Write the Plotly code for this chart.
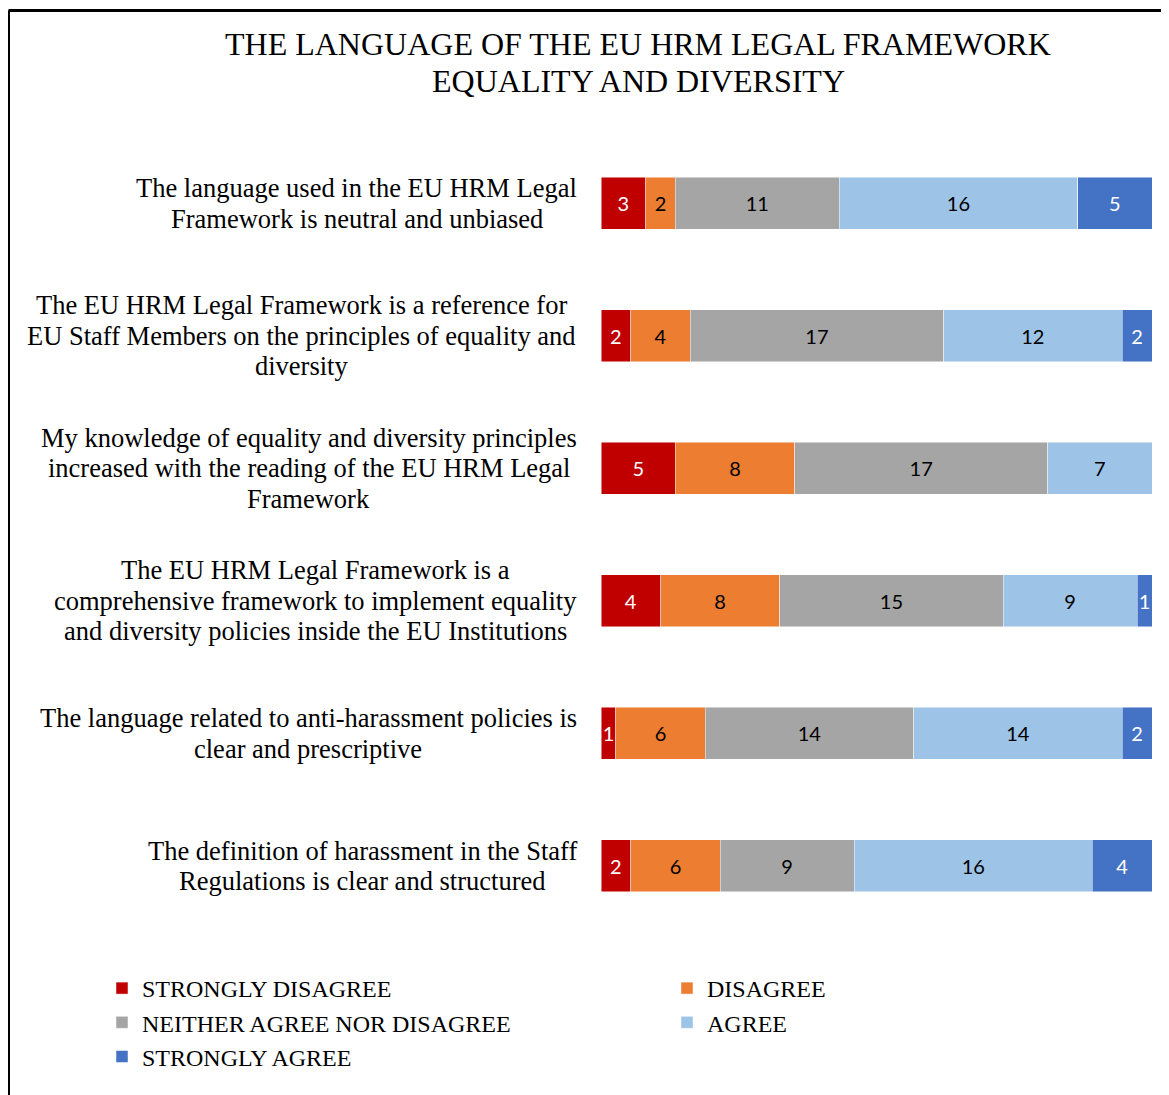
import plotly.graph_objects as go

categories = [
    "The language used in the EU HRM Legal<br>Framework is neutral and unbiased",
    "The EU HRM Legal Framework is a reference for<br>EU Staff Members on the principles of equality and<br>diversity",
    "My knowledge of equality and diversity principles<br>increased with the reading of the EU HRM Legal<br>Framework",
    "The EU HRM Legal Framework is a<br>comprehensive framework to implement equality<br>and diversity policies inside the EU Institutions",
    "The language related to anti-harassment policies is<br>clear and prescriptive",
    "The definition of harassment in the Staff<br>Regulations is clear and structured",
]

strongly_disagree = [3, 2, 5, 4, 1, 2]
disagree = [2, 4, 8, 8, 6, 6]
neither = [11, 17, 17, 15, 14, 9]
agree = [16, 12, 7, 9, 14, 16]
strongly_agree = [5, 2, None, 1, 2, 4]

series = [
    ("STRONGLY DISAGREE", strongly_disagree, "#C00000", "white"),
    ("DISAGREE", disagree, "#ED7D31", "black"),
    ("NEITHER AGREE NOR DISAGREE", neither, "#A5A5A5", "black"),
    ("AGREE", agree, "#9DC3E6", "black"),
    ("STRONGLY AGREE", strongly_agree, "#4472C4", "white"),
]

title_lines = ["THE LANGUAGE OF THE EU HRM LEGAL FRAMEWORK", "EQUALITY AND DIVERSITY"]

# layout helpers (page has an 8px body margin; positions below are page pixels)
OFF = 8
W, H = 1169 - OFF, 1095 - OFF
L = 601 - OFF
R = W - (1152 - OFF)
T = 137 - OFF
B = H - (932 - OFF)
pw, ph = W - L - R, H - T - B
label_center_px = [356.5, 301.5, 308.5, 315.5, 308, 362]
label_line_gap = 30.5
SERIF = "Liberation Serif, Times New Roman, serif"


def px_x(px):
    return (px - OFF - L) / pw


def px_y(py):
    return (H - B - (py - OFF)) / ph


fig = go.Figure()
for name, vals, color, tcol in series:
    fig.add_trace(go.Bar(
        name=name, y=categories, x=vals, orientation="h",
        marker=dict(color=color, line=dict(color="rgba(255,255,255,0.6)", width=0.8)),
        text=[("" if v is None else str(v)) for v in vals],
        textposition="inside", insidetextanchor="middle", textangle=0,
        textfont=dict(family="Lato, sans-serif", size=20, color=tcol),
        hoverinfo="x+name",
    ))

annotations = []
for c, cx in zip(categories, label_center_px):
    lines = c.split("<br>")
    n = len(lines)
    for i, ln in enumerate(lines):
        annotations.append(dict(
            x=px_x(cx), xref="paper", y=c, yref="y", text=ln, showarrow=False,
            xanchor="center", yanchor="middle",
            yshift=((n - 1) / 2 - i) * label_line_gap,
            font=dict(family=SERIF, size=26.5, color="black"),
        ))

for ln, cy in zip(title_lines, [44, 81]):
    annotations.append(dict(
        x=px_x(638), xref="paper", y=px_y(cy), yref="paper", text=ln, showarrow=False,
        xanchor="center", yanchor="middle",
        font=dict(family=SERIF, size=32, color="black"),
    ))

shapes = [
    dict(type="line", xref="paper", yref="paper", x0=px_x(8.5), x1=px_x(1200),
         y0=px_y(10.5), y1=px_y(10.5), line=dict(color="black", width=3)),
    dict(type="line", xref="paper", yref="paper", x0=px_x(8.5), x1=px_x(8.5),
         y0=px_y(10.5), y1=px_y(1120), line=dict(color="black", width=3)),
]

fig.update_layout(
    width=W, height=H,
    margin=dict(l=L, r=R, t=T, b=B, autoexpand=False),
    paper_bgcolor="white", plot_bgcolor="white",
    barmode="stack", bargap=0.61,
    xaxis=dict(range=[0, 37], showticklabels=False, showgrid=False, zeroline=False,
               showline=False, fixedrange=True),
    yaxis=dict(autorange="reversed", showticklabels=False, showgrid=False,
               zeroline=False, showline=False),
    uniformtext=dict(minsize=20, mode="show"),
    legend=dict(
        orientation="h", x=px_x(102), xanchor="left", y=px_y(966), yanchor="top",
        entrywidth=520, entrywidthmode="pixels", traceorder="normal",
        font=dict(family=SERIF, size=24, color="black"),
        itemclick=False, itemdoubleclick=False,
    ),
    annotations=annotations,
    shapes=shapes,
)

fig.write_html("out.html")
